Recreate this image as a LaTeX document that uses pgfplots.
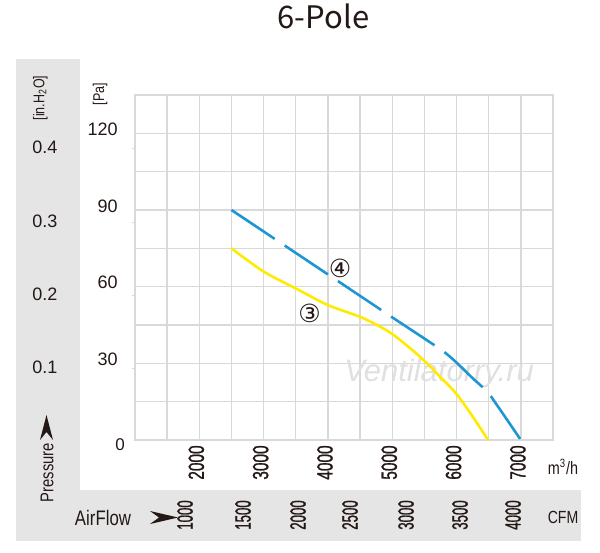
\documentclass[border=0pt]{standalone}
\usepackage{fontspec}
\setmainfont{Liberation Sans}
\newfontfamily\titlefont{Noto Sans CJK SC}
\newfontfamily\symfont{DejaVu Sans}
\newfontfamily\condA{Liberation Sans}[FakeStretch=0.8]
\newfontfamily\condB{Liberation Sans}[FakeStretch=0.7, FakeBold=1]
\newfontfamily\condC{Liberation Sans}[FakeStretch=0.6, FakeBold=1]
\usepackage{pgfplots}
\pgfplotsset{compat=1.18}

\definecolor{ink}{HTML}{231815}
\definecolor{panel}{HTML}{E5E5E5}
\definecolor{gridc}{HTML}{D9D9D9}
\definecolor{fanblue}{HTML}{1E96D2}
\definecolor{fanyellow}{HTML}{FFEB00}
\definecolor{wmark}{HTML}{E0E0E0}

% curve 3 (yellow), m3/h vs Pa
\pgfplotstableread{
flow pa
2500 75
3000 65.9
3500 59.3
4000 52.8
4500 48.2
4800 44.5
5000 41.5
5250 36.5
5500 31.0
5750 24.6
6000 18.0
6250 9.2
6490 0
}\curvethree

% curve 4 (blue, dashed)
\pgfplotstableread{
flow pa
2500 90
3000 81.6
3500 73.2
4000 64.8
4500 56.4
5000 48.0
5500 39.7
5800 34.6
6000 30.3
6250 24.2
6480 18.9
6600 14.7
6800 7.4
7000 0
}\curvefour

\begin{document}
\begin{tikzpicture}[x=0.5pt,y=-0.5pt]
\useasboundingbox (0,0) rectangle (600,552);
% grey L-shaped panel
\fill[panel] (16,59) rectangle (80,541);
\fill[panel] (16,490) rectangle (581,541);

\node[anchor=base,text=ink,font=\titlefont\fontsize{15.5}{18}\selectfont] at (323.5,28) {6-Pole};

\begin{axis}[
  at={(67.5pt,-220pt)}, anchor=south west,
  width=209pt, height=172.5pt, scale only axis,
  xmin=1000, xmax=7500, ymin=0, ymax=135,
  xtick={2000,3000,4000,5000,6000,7000},
  xticklabels={2000,3000,4000,5000,6000,7000},
  minor xtick={1000,1500,2500,3500,4500,5500,6500,7500},
  ytick={30,60,90,120},
  yticklabels={30,60,90,120},
  minor ytick={0,15,45,75,105,135},
  extra y ticks={114.0,85.3,56.6,27.9},
  extra y tick labels={0.4,0.3,0.2,0.1},
  extra y tick style={grid=none, major tick length=1.5pt, tick align=outside,
    yticklabel style={anchor=center, xshift=-35pt, yshift=-1.5pt}},
  xtick pos=bottom, ytick pos=left,
  grid=both,
  major grid style={gridc, line width=0.7pt},
  minor grid style={gridc, line width=0.7pt},
  axis line style={gridc, line width=0.7pt},
  tick style={gridc, line width=0.5pt},
  major tick length=0pt, minor tick length=0pt,
  /pgf/number format/assume math mode=true,
  xticklabel style={text=ink, font=\condB\fontsize{11}{12}\selectfont,
    inner sep=0pt, yshift=-2.5pt, xshift=-1.5pt, rotate=90, anchor=east},
  yticklabel style={text=ink, font=\fontsize{9}{10}\selectfont,
    inner sep=0pt, anchor=east, xshift=-8.5pt, yshift=2pt},
]
\node[text=wmark, font=\itshape\fontsize{15.5}{16}\selectfont] at (axis cs:5729,26.2) {Ventilatorry.ru};
\addplot[fanyellow, line width=1.3pt, smooth, tension=0.5] table[x=flow, y=pa] {\curvethree};
\addplot[fanblue, line width=1.3pt, smooth, tension=0.5, dash pattern=on 26pt off 6pt] table[x=flow, y=pa] {\curvefour};
\node[text=ink, font=\symfont\fontsize{12.5}{12}\selectfont] at (axis cs:3713,49.6) {③};
\node[text=ink, font=\symfont\fontsize{12.5}{12}\selectfont] at (axis cs:4190,67.2) {④};
\end{axis}

% zero of the Pa scale
\node[text=ink, font=\fontsize{8.5}{10}\selectfont] at (120,445) {0};
% axis captions
\node[text=ink, rotate=90, font=\condA\fontsize{7.8}{8}\selectfont] at (40.3,98) {[in.H\textsubscript{2}O]};
\node[text=ink, rotate=90, font=\condA\fontsize{7.8}{8}\selectfont] at (100,94) {[Pa]};
\node[text=ink, rotate=90, anchor=base, inner sep=0pt, font=\condA\fontsize{9.25}{10}\selectfont] at (53.3,472.5) {Pressure};
\fill[ink] (46.5,415) -- (53,440) -- (46.5,432) -- (40,440) -- cycle;
\node[text=ink, anchor=base, inner sep=0pt, font=\condA\fontsize{10.5}{12}\selectfont] at (103,525) {AirFlow};
\fill[ink] (178,517.5) -- (150,511) -- (159,517.5) -- (150,524) -- cycle;
\node[text=ink, font=\condA\fontsize{9}{10}\selectfont] at (563,467) {m\textsuperscript{3}/h};
\node[text=ink, font=\condA\fontsize{8.8}{10}\selectfont] at (563,517) {CFM};
% CFM scale
\foreach \px/\lab in {185/1000,243/1500,298/2000,350/2500,406/3000,460/3500,513/4000}
  \node[text=ink, rotate=90, inner sep=0pt, font=\condC\fontsize{11}{12}\selectfont] at (\px,515) {\lab};
\end{tikzpicture}
\end{document}
